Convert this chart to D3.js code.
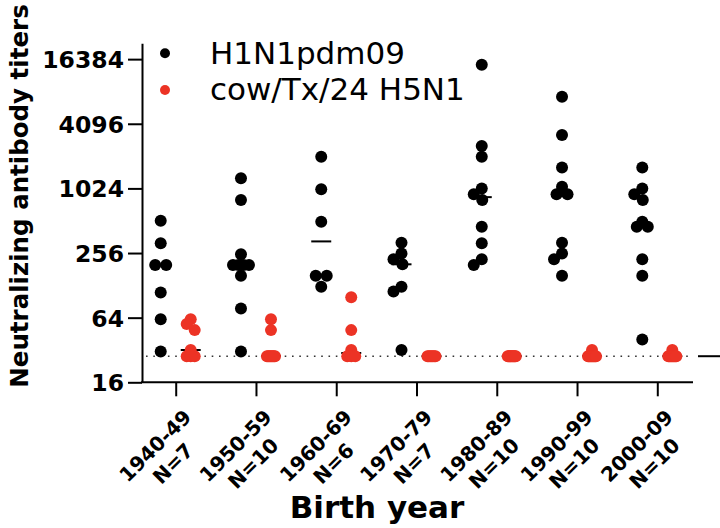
<!DOCTYPE html>
<html><head><meta charset="utf-8">
<script src="https://cdn.jsdelivr.net/npm/d3@7"></script>
<style>body{margin:0;background:#fff}svg{display:block}</style>
</head><body><svg id="c" width="720" height="528"></svg>
<script>
const categories = ["1940-49","1950-59","1960-69","1970-79","1980-89","1990-99","2000-09"];
const sampleSizes = ["N=7","N=10","N=6","N=7","N=10","N=10","N=10"];
const seriesNames = ["H1N1pdm09","cow/Tx/24 H5N1"];
const h1n1Titers = [
  [512,315,198,198,110,62,31],
  [1270,797,249,198,198,198,198,157,78,31],
  [2020,1003,500,157,157,124],
  [319,254,224,201,124,112,32],
  [14500,2537,2017,1024,901,797,450,315,224,198],
  [7300,3212,1607,1060,901,901,319,254,224,157],
  [1607,1024,901,797,500,450,450,224,157,40]
];
const h5n1Titers = [
  [62,56,49,32,28,28,28],
  [62,49,28,28,28,28,28,28,28,28],
  [99,49,32,28,28,28],
  [28,28,28,28,28,28,28],
  [28,28,28,28,28,28,28,28,28,28],
  [32,28,28,28,28,28,28,28,28,28],
  [32,28,28,28,28,28,28,28,28,28]
];
const yTickValues = [16,64,256,1024,4096,16384];
const detectionLimit = 28;
const colors = ["#000000","#ec3325"];

const svg = d3.select("#c");
const FONT = "DejaVu Sans, sans-serif";
const axisY = 382.3, axisLeft = 142, axisRight = 693, axisTop = 43.3;

const x = d3.scalePoint().domain(categories).range([142, 691]).padding(0.42);
const y = d3.scaleLog().base(2).domain([16, Math.pow(2, 14.49)]).range([axisY, axisTop]);

const R = 6, MIN_D = 10;
function swarm(values, maxOff) {
  const pts = values.map(v => ({v, y: y(v)})).sort((a, b) => a.y - b.y);
  const placed = [];
  let i = 0;
  while (i < pts.length) {
    let j = i;
    while (j + 1 < pts.length && Math.abs(pts[j + 1].y - pts[i].y) < 4) j++;
    const row = pts.slice(i, j + 1);
    if (row.length > 1) {
      const k = row.length;
      const s = Math.min(2 * R - 1, 2 * maxOff / (k - 1));
      row.forEach((p, m) => { p.dx = (m - (k - 1) / 2) * s; placed.push(p); });
    } else {
      const p = row[0];
      let best = 0, bestD = -1, found = false;
      for (let step = 0; step <= maxOff * 2; step++) {
        const cands = step === 0 ? [0] : [-step / 2, step / 2];
        for (const c of cands) {
          let md = Infinity;
          for (const q of placed) md = Math.min(md, Math.hypot(c - q.dx, p.y - q.y));
          if (md >= MIN_D) { best = c; found = true; break; }
          if (md > bestD) { bestD = md; best = c; }
        }
        if (found) break;
      }
      p.dx = best; placed.push(p);
    }
    i = j + 1;
  }
  return placed;
}

// detection limit dotted line
svg.append("line")
  .attr("x1", axisLeft + 4).attr("x2", axisRight)
  .attr("y1", y(detectionLimit)).attr("y2", y(detectionLimit))
  .attr("stroke", "#333").attr("stroke-width", 1.6)
  .attr("stroke-dasharray", "1.6,5.7");
svg.append("line")
  .attr("x1", 698).attr("x2", 720)
  .attr("y1", y(detectionLimit)).attr("y2", y(detectionLimit))
  .attr("stroke", "#000").attr("stroke-width", 2);

const series = [h1n1Titers, h5n1Titers];
const offsets = [-15, 15];
const maxOffs = [8, 4];

// medians (beneath dots)
series.forEach((data, si) => {
  svg.append("g").selectAll("line").data(categories).join("line")
    .attr("x1", c => x(c) + offsets[si] - 10)
    .attr("x2", c => x(c) + offsets[si] + 10)
    .attr("y1", (c, i) => y(d3.median(data[i])))
    .attr("y2", (c, i) => y(d3.median(data[i])))
    .attr("stroke", "#000").attr("stroke-width", 2);
});

// dots
series.forEach((data, si) => {
  const g = svg.append("g").attr("fill", colors[si]);
  categories.forEach((c, i) => {
    const pts = swarm(data[i], maxOffs[si]);
    g.selectAll(null).data(pts).join("circle")
      .attr("cx", p => x(c) + offsets[si] + p.dx)
      .attr("cy", p => p.y)
      .attr("r", R);
  });
});

// y axis
const ya = svg.append("g").attr("transform", `translate(${axisLeft},0)`)
  .call(d3.axisLeft(y).tickValues(yTickValues).tickFormat(d3.format("d"))
        .tickSize(14).tickSizeOuter(0).tickPadding(4));
ya.select(".domain").attr("stroke-width", 2);
ya.selectAll(".tick line").attr("stroke-width", 2);
ya.selectAll(".tick text").attr("font-family", FONT).attr("font-weight", "bold")
  .attr("font-size", 23.5).attr("fill", "#000").attr("dy", "0.36em");

// x axis
const xa = svg.append("g").attr("transform", `translate(0,${axisY})`)
  .call(d3.axisBottom(x).tickSize(14).tickSizeOuter(0).tickFormat(""));
xa.select(".domain").remove();
xa.selectAll(".tick line").attr("stroke-width", 2);
svg.append("line").attr("x1", axisLeft - 1).attr("x2", axisRight)
  .attr("y1", axisY).attr("y2", axisY).attr("stroke", "#000").attr("stroke-width", 2);

// rotated two-line tick labels
categories.forEach((c, i) => {
  const g = svg.append("g")
    .attr("transform", `translate(${x(c) + 17},${axisY + 36}) rotate(-45)`)
    .attr("font-family", FONT).attr("font-weight", "bold").attr("font-size", 20);
  const t1 = g.append("text").attr("text-anchor", "end").text(c);
  const w = t1.node().getComputedTextLength();
  g.append("text").attr("text-anchor", "middle").attr("x", -w / 2).attr("y", 25)
    .text(sampleSizes[i]);
});

// axis titles
svg.append("text").attr("transform", "translate(28,196) rotate(-90)")
  .attr("text-anchor", "middle").attr("font-family", FONT).attr("font-weight", "bold")
  .attr("font-size", 24.5).text("Neutralizing antibody titers");
svg.append("text").attr("x", 377).attr("y", 518)
  .attr("text-anchor", "middle").attr("font-family", FONT).attr("font-weight", "bold")
  .attr("font-size", 31).text("Birth year");

// legend
const leg = svg.append("g");
seriesNames.forEach((n, i) => {
  leg.append("circle").attr("cx", 165).attr("cy", 53.3 + i * 36.7).attr("r", 5).attr("fill", colors[i]);
  leg.append("text").attr("x", 210).attr("y", 63.5 + i * 36.7)
    .attr("font-family", FONT).attr("font-size", 31).attr("fill", "#000").text(n);
});
</script></body></html>
